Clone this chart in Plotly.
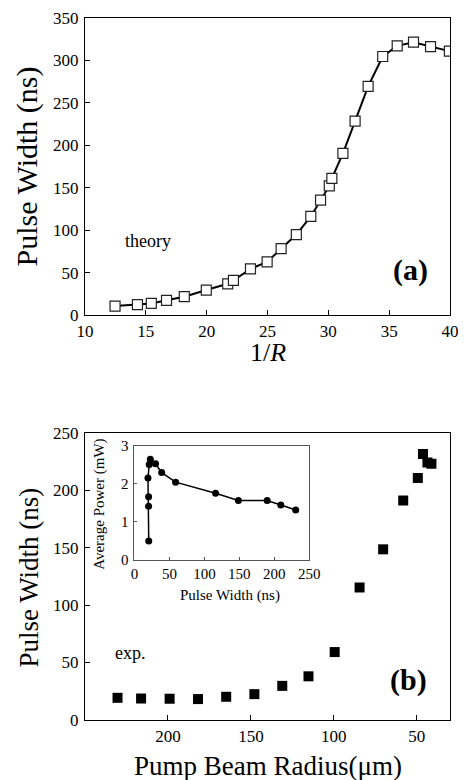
import plotly.graph_objects as go

# (a) theory
inv_r = [12.47, 14.31, 15.45, 16.7, 18.16, 19.97, 21.73, 22.2, 23.6, 24.97, 26.12, 27.37,
         28.56, 29.36, 30.08, 30.29, 31.2, 32.2, 33.27, 34.47, 35.66, 37.0, 38.4, 39.95]
pw_theory = [10.9, 12.5, 14, 17.6, 21.9, 29.7, 37.1, 41, 54.7, 62.9, 78.5, 95,
             116.4, 135.5, 152.3, 161.3, 190.6, 228.5, 269.5, 304.7, 317.2, 321.5, 316.4, 311]

# (b) experiment
radius = [230.4, 216.2, 199, 181.9, 164.9, 147.9, 131.1, 115.3, 99.5, 84.5, 70.3, 58.2,
          49.4, 46.3, 43.6, 41.2]
pw_exp = [19.3, 18.7, 18.5, 18.2, 20.2, 22.5, 29.7, 38, 59.1, 115.3, 148.5, 190.9,
          210.5, 231.5, 224, 222.9]

# inset
inset_pw = [20.4, 20.2, 20.2, 19.3, 21.1, 22.7, 30.1, 38.9, 58.8, 116, 148.6, 189.8, 209.3, 230.6]
inset_power = [0.5, 1.41, 1.66, 2.15, 2.5, 2.64, 2.52, 2.29, 2.04, 1.75, 1.56, 1.56, 1.44, 1.31]

FONT = "Liberation Serif, Times New Roman, DejaVu Serif, serif"

fig = go.Figure()
fig.add_trace(go.Scatter(x=inv_r, y=pw_theory, mode="lines+markers",
                         line=dict(color="black", width=2),
                         marker=dict(symbol="square", size=10, color="white",
                                     line=dict(color="#222", width=1.2)),
                         xaxis="x", yaxis="y", showlegend=False))
fig.add_trace(go.Scatter(x=radius, y=pw_exp, mode="markers",
                         marker=dict(symbol="square", size=10, color="black"),
                         xaxis="x2", yaxis="y2", showlegend=False))
fig.add_trace(go.Scatter(x=inset_pw, y=inset_power, mode="lines+markers",
                         line=dict(color="black", width=1.5),
                         marker=dict(symbol="circle", size=7, color="black"),
                         xaxis="x3", yaxis="y3", showlegend=False))

ax_common = dict(showgrid=False, zeroline=False, showline=True, linecolor="black",
                 linewidth=1, mirror=True, ticks="inside", ticklen=5, tickcolor="black",
                 tickfont=dict(family=FONT, size=17, color="black"))

fig.update_layout(
    width=470, height=780,
    margin=dict(l=85, r=9, t=14, b=60),
    paper_bgcolor="white", plot_bgcolor="white",
    font=dict(family=FONT, color="black"),
    xaxis=dict(domain=[0, 1], range=[10, 40], tickvals=[10, 15, 20, 25, 30, 35, 40],
               anchor="y", ticklabelstandoff=0, **ax_common),
    yaxis=dict(domain=[0.5765, 1], range=[0, 350], tickvals=[0, 50, 100, 150, 200, 250, 300, 350],
               anchor="x", ticklabelstandoff=2, **ax_common),
    xaxis2=dict(domain=[0, 1], range=[250, 30], tickvals=[200, 150, 100, 50],
                anchor="y2", ticklabelstandoff=1, **ax_common),
    yaxis2=dict(domain=[0, 0.4093], range=[0, 250], tickvals=[0, 50, 100, 150, 200, 250],
                anchor="x2", ticklabelstandoff=2, **ax_common),
    xaxis3=dict(domain=[0.1356, 0.6144], range=[0, 250], tickvals=[0, 50, 100, 150, 200, 250],
                anchor="y3", showgrid=False, zeroline=False, showline=True, linecolor="#555",
                linewidth=1, mirror=True, ticks="inside", ticklen=3, tickcolor="#555",
                tickfont=dict(family=FONT, size=15, color="black"), ticklabelstandoff=0),
    yaxis3=dict(domain=[0.228, 0.391], range=[0, 3], tickvals=[0, 1, 2, 3],
                anchor="x3", showgrid=False, zeroline=False, showline=True, linecolor="#555",
                linewidth=1, mirror=True, ticks="inside", ticklen=3, tickcolor="#555",
                tickfont=dict(family=FONT, size=15, color="black"), ticklabelstandoff=2),
)

anns = [
    dict(text="Pulse Width (ns)", x=-0.1596, y=(720 - 163.5) / 706, textangle=-90, size=30),
    dict(text="1/<i>R</i>", x=0.5, y=(720 - 350) / 706, size=26),
    dict(text="Pulse Width (ns)", x=-0.154, y=(720 - 577) / 706, textangle=-90, size=27),
    dict(text="Pump Beam Radius(\u03bcm)", x=0.5, y=(720 - 766) / 706, size=27),
    dict(text="Pulse Width (ns)", x=(234 - 85) / 376, y=(720 - 595) / 706, size=15),
    dict(text="Average Power (mW)", x=(100 - 85) / 376, y=(720 - 503) / 706, textangle=-90, size=15),
    dict(text="theory", x=(150 - 85) / 376, y=(720 - 238) / 706, size=18),
    dict(text="<b>(a)</b>", x=(420 - 85) / 376, y=(720 - 267) / 706, size=30),
    dict(text="exp.", x=(132 - 85) / 376, y=(720 - 653) / 706, size=18),
    dict(text="<b>(b)</b>", x=(418 - 85) / 376, y=(720 - 680) / 706, size=30),
]
for a in anns:
    fig.add_annotation(text=a["text"], x=a["x"], y=a["y"], xref="paper", yref="paper",
                       showarrow=False, xanchor="center", yanchor="middle",
                       textangle=a.get("textangle", 0),
                       font=dict(family=FONT, size=a["size"], color="black"))

fig.write_html("out.html")
